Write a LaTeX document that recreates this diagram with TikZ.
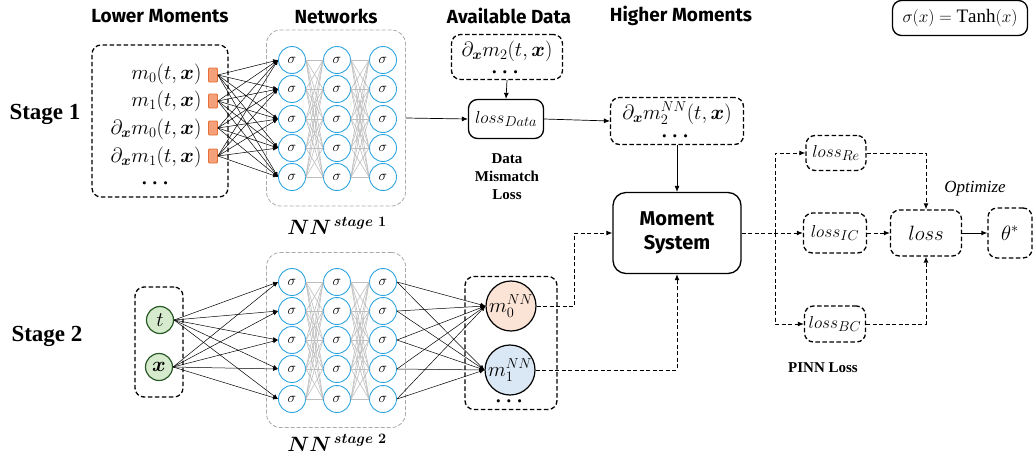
\documentclass[tikz,border=0pt]{standalone}
\usepackage{fontspec}
\usepackage{amsmath,bm}
\setmainfont{Liberation Serif}
\newfontfamily\titlefont{Fira Sans}
\usetikzlibrary{arrows.meta,calc}
\definecolor{nnblue}{RGB}{45,165,225}
\definecolor{sqfill}{RGB}{244,160,122}
\definecolor{sqdraw}{RGB}{232,110,50}
\definecolor{gfill}{RGB}{214,235,205}
\definecolor{gdraw}{RGB}{40,90,40}
\definecolor{ofill}{RGB}{251,227,214}
\definecolor{bfill}{RGB}{218,232,246}
\definecolor{linegray}{RGB}{190,190,190}
\definecolor{boxgray}{RGB}{170,170,170}
\begin{document}
\begin{tikzpicture}[x=1pt,y=-1pt,
  neuron/.style={circle,draw=nnblue,line width=0.9pt,fill=white,minimum size=27pt,inner sep=0pt,font=\fontsize{15}{15}\selectfont},
  dbox/.style={draw,rounded corners=9pt,line width=1.3pt,dash pattern=on 4.5pt off 2.5pt},
  sbox/.style={draw,rounded corners=9pt,line width=1.3pt},
  nnbox/.style={draw=boxgray,rounded corners=14pt,line width=0.8pt,dash pattern=on 4pt off 2pt},
  arr/.style={-{Latex[length=6pt,width=5pt]},line width=0.7pt},
  darr/.style={arr,line width=1pt,dash pattern=on 4pt off 2.5pt},
  gline/.style={draw=linegray,line width=0.6pt},
  inarr/.style={-{Latex[length=5pt,width=4pt]},line width=0.5pt},
  insq/.style={draw=sqdraw,fill=sqfill,line width=0.8pt,minimum width=9pt,minimum height=14pt,inner sep=0pt,rounded corners=1pt},
  gcirc/.style={circle,draw=gdraw,fill=gfill,line width=1.2pt,minimum size=27pt,inner sep=0pt,font=\fontsize{21}{21}\selectfont},
  ocirc/.style={circle,draw,line width=1.2pt,minimum size=50pt,inner sep=0pt,font=\fontsize{21}{21}\selectfont},
  ttl/.style={font=\titlefont\bfseries\fontsize{19}{19}\selectfont},
  stg/.style={font=\bfseries\fontsize{23}{23}\selectfont},
  mth/.style={font=\fontsize{22}{22}\selectfont},
  lbl/.style={font=\bfseries\fontsize{15}{18}\selectfont,align=center},
  dots/.style={font=\fontsize{20}{20}\selectfont,inner sep=0pt}
]
\useasboundingbox (0,0) rectangle (1035,464);

% titles
\node[ttl] (t1) at (160,16) {Lower Moments};
\node[ttl] (t2) at (336,16) {Networks};
\node[ttl] (t3) at (509,16) {Available Data};
\node[ttl] (t4) at (681,16) {Higher Moments};
\node[sbox,minimum width=135pt,minimum height=35pt,inner sep=0pt,font=\fontsize{19}{19}\selectfont] (act) at (960,18) {$\sigma(x)=\mathrm{Tanh}(x)$};

\node[stg] (s1lab) at (45,114) {Stage 1};
\node[stg] (s2lab) at (47,336) {Stage 2};

% lower moments
\node[dbox,minimum width=136pt,minimum height=152pt] (lm) at (160,121) {};
\node[mth,anchor=east] (q1) at (205,74) {$m_0(t,\bm{x})$};
\node[mth,anchor=east] (q2) at (205,101) {$m_1(t,\bm{x})$};
\node[mth,anchor=east] (q3) at (205,129) {$\partial_{\bm{x}} m_0(t,\bm{x})$};
\node[mth,anchor=east] (q4) at (205,157) {$\partial_{\bm{x}} m_1(t,\bm{x})$};
\node[dots] (q5) at (157,184) {$\bm{\cdots}$};
\node[insq] (sq1) at (213,75) {};
\node[insq] (sq2) at (213,101) {};
\node[insq] (sq3) at (213,128) {};
\node[insq] (sq4) at (213,156) {};

% NN stage 1
\node[nnbox,minimum width=139pt,minimum height=176pt] (nn1) at (336,118) {};
\foreach \c/\x in {1/292,2/337,3/383}{
  \foreach \r/\y in {1/60,2/89,3/119,4/148,5/177}{
    \node[neuron] (a\c\r) at (\x,\y) {$\sigma$};
  }
}
\foreach \r in {1,...,5}{
  \foreach \s in {1,...,5}{
    \draw[gline] (a1\r.east) -- (a2\s.west);
    \draw[gline] (a2\r.east) -- (a3\s.west);
  }
}
\foreach \i in {1,...,4}{
  \foreach \r in {1,...,5}{
    \draw[inarr] (sq\i.east) -- (a1\r.west);
  }
}
\node[font=\fontsize{20}{20}\selectfont] (nn1lab) at (337,226) {$\bm{NN}^{\,\bm{stage}\ \bm{1}}$};

% available data
\node[dbox,minimum width=111pt,minimum height=45pt] (avail) at (507,57) {};
\node[mth,inner sep=0pt] (availt) at (507,51) {$\partial_{\bm{x}} m_2(t,\bm{x})$};
\node[dots] (availd) at (507,73) {$\bm{\cdots}$};
\node[sbox,minimum width=75pt,minimum height=39pt,inner sep=0pt,font=\fontsize{19}{19}\selectfont] (lossd) at (506,119) {$loss_{Data}$};
\node[lbl] (dml) at (507,177) {Data\\Mismatch\\Loss};
\draw[arr] (avail.south) -- (lossd.north);
\draw[arr] (nn1.east) -- (lossd.west);

% higher moments
\node[dbox,minimum width=133pt,minimum height=47pt] (hm) at (677,121) {};
\node[mth,inner sep=0pt] (hmt) at (677,113) {$\partial_{\bm{x}} m_2^{NN}(t,\bm{x})$};
\node[dots] (hmd) at (677,137) {$\bm{\cdots}$};
\draw[arr] (lossd.east) -- (hm.west);

% moment system
\node[sbox,rounded corners=13pt,minimum width=128pt,minimum height=81pt,align=center,font=\titlefont\bfseries\fontsize{20}{24}\selectfont] (ms) at (677,233) {Moment\\System};
\draw[arr] (hm.south) -- (ms.north);

% stage 2 input
\node[dbox,minimum width=48pt,minimum height=110pt] (inb) at (159,342) {};
\node[gcirc] (tin) at (160,320) {$t$};
\node[gcirc] (xin) at (159,367) {$\bm{x}$};

% NN stage 2
\node[nnbox,minimum width=139pt,minimum height=175pt] (nn2) at (336,340) {};
\foreach \c/\x in {1/292,2/337,3/383}{
  \foreach \r/\y in {1/282,2/311,3/340,4/369,5/399}{
    \node[neuron] (b\c\r) at (\x,\y) {$\sigma$};
  }
}
\foreach \r in {1,...,5}{
  \foreach \s in {1,...,5}{
    \draw[gline] (b1\r.east) -- (b2\s.west);
    \draw[gline] (b2\r.east) -- (b3\s.west);
  }
  \draw[inarr] (tin.east) -- (b1\r.west);
  \draw[inarr] (xin.east) -- (b1\r.west);
}
\node[font=\fontsize{20}{20}\selectfont] (nn2lab) at (337,443) {$\bm{NN}^{\,\bm{stage}\ \bm{2}}$};

% outputs
\node[dbox,minimum width=92pt,minimum height=133pt] (ob) at (511,343) {};
\node[ocirc,fill=ofill] (m0) at (511,306) {$m_0^{NN}$};
\node[ocirc,fill=bfill] (m1) at (510,370) {$m_1^{NN}$};
\node[dots] (obd) at (511,402) {$\bm{\cdots}$};
\foreach \r in {1,...,5}{
  \draw[inarr] (b3\r.east) -- (m0.west);
  \draw[inarr] (b3\r.east) -- (m1.west);
}
\draw[darr] (m0.east) -- ++(38,0) |- (ms.west);
\draw[darr] (m1.east) -| (ms.south);

% PINN losses
\node[dbox,minimum width=60pt,minimum height=35pt,inner sep=0pt,font=\fontsize{19}{19}\selectfont] (lre) at (836,153) {$loss_{Re}$};
\node[dbox,minimum width=63pt,minimum height=40pt,inner sep=0pt,font=\fontsize{19}{19}\selectfont] (lic) at (835,233) {$loss_{IC}$};
\node[dbox,minimum width=61pt,minimum height=36pt,inner sep=0pt,font=\fontsize{19}{19}\selectfont] (lbc) at (835,324) {$loss_{BC}$};
\node[dbox,minimum width=71pt,minimum height=46pt,inner sep=0pt,font=\fontsize{20}{20}\selectfont] (loss) at (926,233) {$loss$};
\node[dbox,minimum width=44pt,minimum height=50pt,inner sep=0pt,font=\fontsize{21}{21}\selectfont] (theta) at (1010,233) {$\theta^*$};
\coordinate (br) at (775,233);
\draw[darr] (ms.east) -- (lic.west);
\draw[darr] (br) |- (lre.west);
\draw[darr] (br) |- (lbc.west);
\draw[darr] (lre.east) -| (loss.north);
\draw[darr] (lbc.east) -| (loss.south);
\draw[darr] (lic.east) -- (loss.west);
\draw[arr,line width=1pt] (loss.east) -- (theta.west);
\node[font=\fontsize{17}{17}\selectfont] (opt) at (975,189) {$\mathit{Optimize}$};
\node[lbl] (pinn) at (823,368) {PINN Loss};
\end{tikzpicture}
\end{document}
